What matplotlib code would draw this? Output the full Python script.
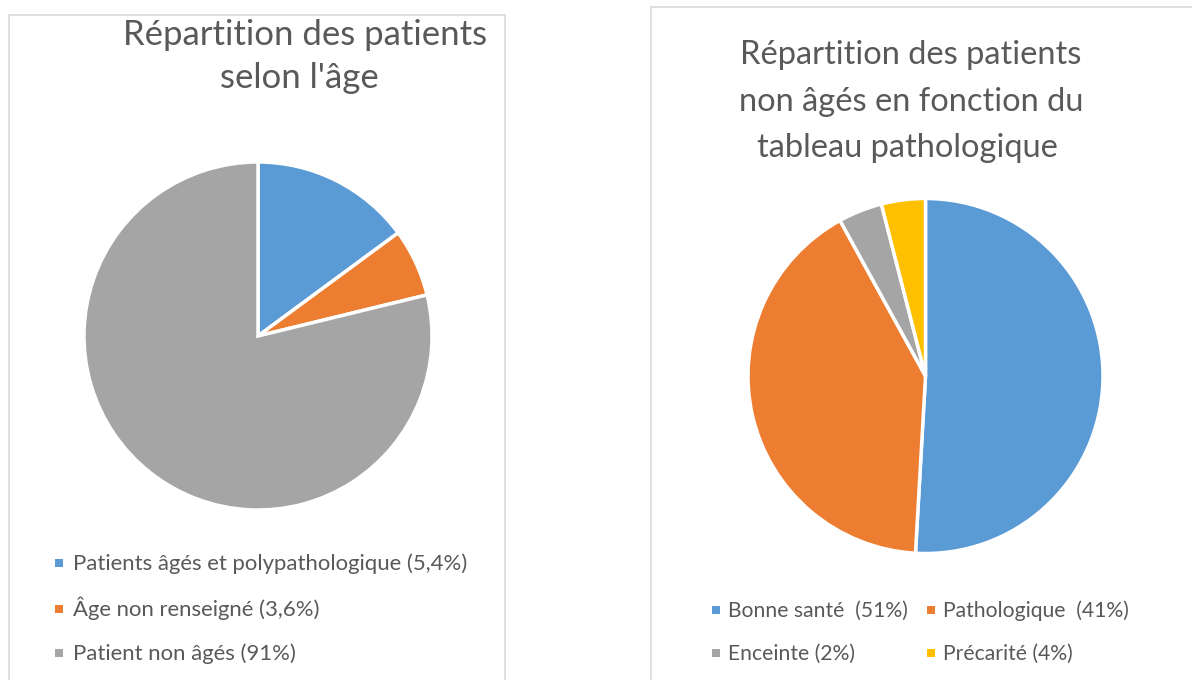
import matplotlib
matplotlib.use("Agg")
import matplotlib.pyplot as plt
from matplotlib.patches import Rectangle

# ---- data ----
left_title_lines = ["Répartition des patients", "selon l'âge"]
left_labels = ["Patients âgés et polypathologique (5,4%)",
               "Âge non renseigné (3,6%)",
               "Patient non âgés (91%)"]
left_values = [14.9, 6.3, 78.8]
left_colors = ["#5B9BD5", "#ED7D31", "#A5A5A5"]

right_title_lines = ["Répartition des patients", "non âgés en fonction du",
                     "tableau pathologique"]
right_labels = ["Bonne santé  (51%)", "Pathologique  (41%)",
                "Enceinte (2%)", "Précarité (4%)"]
right_values = [50.9, 41.1, 4.0, 4.0]
right_colors = ["#5B9BD5", "#ED7D31", "#A5A5A5", "#FFC000"]

W, H = 1192, 680
fig = plt.figure(figsize=(W / 100, H / 100), dpi=100)
fig.patch.set_facecolor("white")
FONT = "Lato"
TXT = "#595959"


def fx(x):
    return x / W


def fy(y):
    return 1 - y / H


# panel borders
fig.patches.append(Rectangle((fx(9), fy(690)), fx(505 - 9), (690 - 15) / H,
                             transform=fig.transFigure, fill=False,
                             edgecolor="#D9D9D9", lw=1.2))
fig.patches.append(Rectangle((fx(651), fy(690)), fx(1200 - 651), (690 - 7) / H,
                             transform=fig.transFigure, fill=False,
                             edgecolor="#D9D9D9", lw=1.2))


def pie_axes(cx, cy, r):
    ax = fig.add_axes([fx(cx - r), fy(cy + r), 2 * r / W, 2 * r / H])
    ax.axis("off")
    return ax


axl = pie_axes(258, 336, 174)
axl.pie(left_values, colors=left_colors, startangle=90, counterclock=False,
        radius=1, wedgeprops=dict(edgecolor="white", linewidth=2.5))
axl.set_xlim(-1, 1)
axl.set_ylim(-1, 1)

axr = pie_axes(925.5, 376, 177.5)
axr.pie(right_values, colors=right_colors, startangle=90, counterclock=False,
        radius=1, wedgeprops=dict(edgecolor="white", linewidth=2.5))
axr.set_xlim(-1, 1)
axr.set_ylim(-1, 1)

# titles (one text per line)
for line, xc, yb in zip(left_title_lines, [305, 299], [45, 88]):
    fig.text(fx(xc), fy(yb), line, ha="center", va="baseline", fontsize=25,
             color=TXT, family=FONT)
for line, xc, yb in zip(right_title_lines, [911, 911, 907.5], [64, 111, 157]):
    fig.text(fx(xc), fy(yb), line, ha="center", va="baseline", fontsize=23.5,
             color=TXT, family=FONT)


def legend_item(x_marker, x_text, y_base, color, label, fs):
    s = 8
    yc = y_base - 7
    fig.patches.append(Rectangle((fx(x_marker), fy(yc + s / 2)), s / W, s / H,
                                 transform=fig.transFigure, facecolor=color,
                                 edgecolor="none"))
    fig.text(fx(x_text), fy(y_base), label, ha="left", va="baseline",
             fontsize=fs, color=TXT, family=FONT)


for i, (lab, col) in enumerate(zip(left_labels, left_colors)):
    legend_item(55, 73, [570, 616, 660][i], col, lab, 15.9)

pos = [(712, 728, 617), (927, 943, 617), (712, 728, 660), (927, 943, 660)]
for (xm, xt, y), lab, col in zip(pos, right_labels, right_colors):
    legend_item(xm, xt, y, col, lab, 15.2)

fig.savefig("out.png", dpi=100, facecolor="white")
